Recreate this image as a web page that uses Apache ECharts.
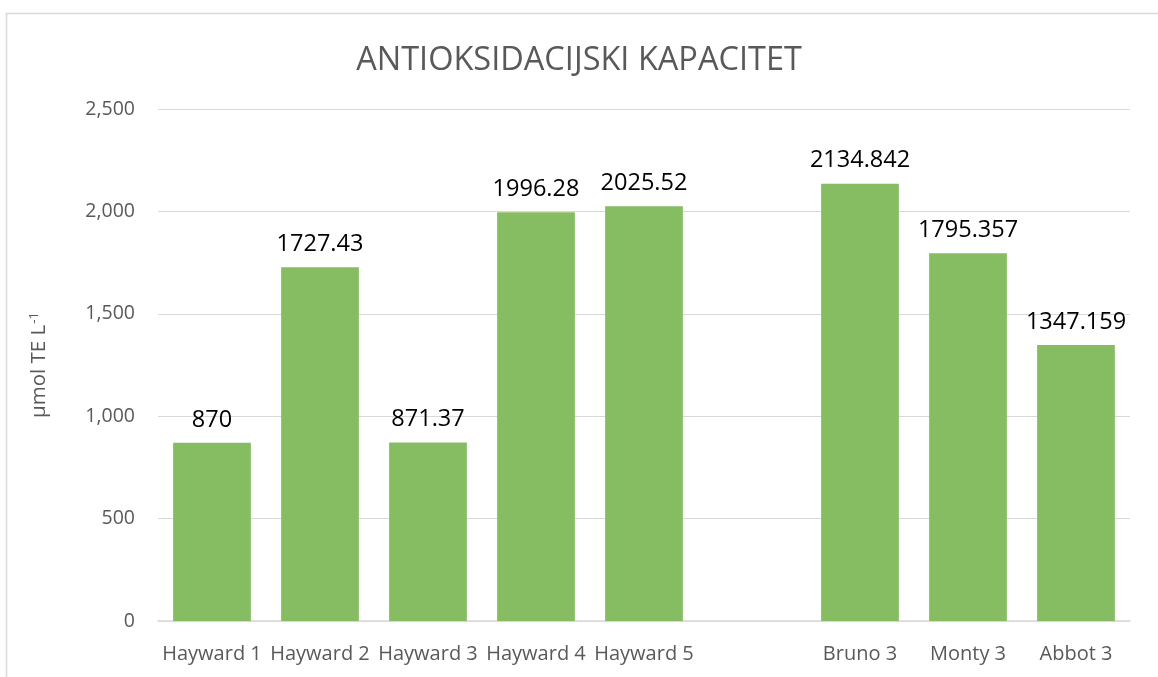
<!DOCTYPE html>
<html>
<head>
<meta charset="utf-8">
<script src="https://cdn.jsdelivr.net/npm/echarts@6/dist/echarts.min.js"></script>
<style>
html,body{margin:0;padding:0;background:#fff;}
#c{width:1158px;height:677px;}
</style>
</head>
<body>
<div id="c"></div>
<script>
const titleText = 'ANTIOKSIDACIJSKI KAPACITET';
const categories = ['Hayward 1','Hayward 2','Hayward 3','Hayward 4','Hayward 5','','Bruno 3','Monty 3','Abbot 3'];
const values = [870, 1727.43, 871.37, 1996.28, 2025.52, null, 2134.842, 1795.357, 1347.159];
const valueLabels = ['870','1727.43','871.37','1996.28','2025.52','','2134.842','1795.357','1347.159'];
const yTicks = [0, 500, 1000, 1500, 2000, 2500];

const chart = echarts.init(document.getElementById('c'));
const font = '"Open Sans", "Noto Sans", sans-serif';
chart.setOption({
  backgroundColor: '#fff',
  animation: false,
  graphic: [{
    type: 'rect', left: 4, top: 11,
    shape: {width: 1200, height: 700},
    style: {fill: 'none', stroke: '#d9d9d9', lineWidth: 1.5},
    silent: true, z: -10
  }],
  title: {
    text: titleText, left: 'center', top: 39,
    textStyle: {fontFamily: font, fontSize: 32.5, fontWeight: 'normal', color: '#595959'}
  },
  grid: {left: 158, right: 28, top: 109, bottom: 56},
  xAxis: {
    type: 'category', data: categories,
    axisLine: {lineStyle: {color: '#d9d9d9', width: 1.5}},
    axisTick: {show: false},
    axisLabel: {fontFamily: font, fontSize: 20, color: '#595959', margin: 23, interval: 0}
  },
  yAxis: {
    type: 'value', min: yTicks[0], max: yTicks[yTicks.length - 1], interval: 500,
    name: '{m|µmol TE L}{s|-1}',
    nameLocation: 'middle', nameGap: 108, nameRotate: 90,
    nameTextStyle: {
      rich: {
        m: {fontFamily: font, fontSize: 20.5, color: '#595959'},
        s: {fontFamily: font, fontSize: 13, color: '#595959', verticalAlign: 'top', padding: [0,0,9,1]}
      }
    },
    axisLine: {show: false}, axisTick: {show: false},
    splitLine: {lineStyle: {color: '#d9d9d9', width: 1.2}},
    axisLabel: {
      fontFamily: font, fontSize: 19.5, color: '#595959', margin: 23,
      formatter: v => v.toLocaleString('en-US')
    }
  },
  series: [{
    type: 'bar', data: values, barCategoryGap: '28%',
    itemStyle: {color: '#87bd62'},
    label: {
      show: true, position: 'top', distance: 11,
      fontFamily: font, fontSize: 23.5, color: '#000',
      formatter: p => valueLabels[p.dataIndex]
    }
  }]
});
</script>
</body>
</html>
